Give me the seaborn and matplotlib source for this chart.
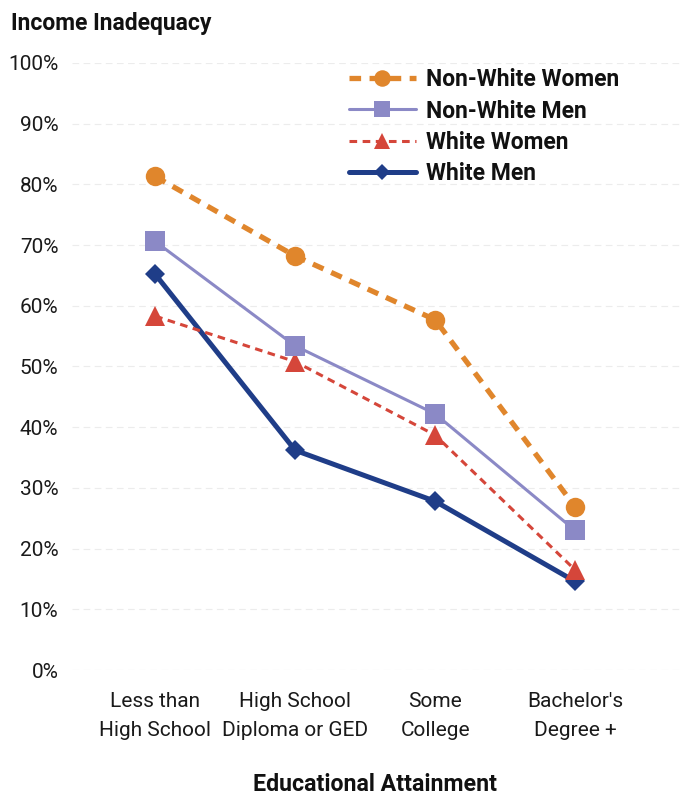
import matplotlib
matplotlib.use("Agg")
import matplotlib.pyplot as plt
import seaborn as sns
import pandas as pd
from matplotlib.lines import Line2D

categories = ["Less than\nHigh School", "High School\nDiploma or GED", "Some\nCollege", "Bachelor's\nDegree +"]
non_white_women = [81.3, 68.2, 57.7, 26.9]
non_white_men = [70.6, 53.4, 42.2, 23.0]
white_women = [58.3, 50.8, 38.7, 16.5]
white_men = [65.2, 36.2, 27.8, 14.6]
y_ticks = [0, 10, 20, 30, 40, 50, 60, 70, 80, 90, 100]

sns.set_theme(style="white")
plt.rcParams["font.family"] = ["Roboto", "DejaVu Sans"]

fig = plt.figure(figsize=(6.81, 7.95), dpi=100)
ax = fig.add_axes([0.106, 0.1572, 0.894, 0.7636])

series = [
    ("Non-White Women", non_white_women, dict(color="#E0862C", marker="o", linestyle=(0, (2.2, 1.6)), lw=3.8, ms=14)),
    ("Non-White Men", non_white_men, dict(color="#8B89C6", marker="s", linestyle="-", lw=2.2, ms=14)),
    ("White Women", white_women, dict(color="#D5463A", marker="^", linestyle=(0, (2.5, 1.8)), lw=2.2, ms=14)),
    ("White Men", white_men, dict(color="#1F3D88", marker="D", linestyle="-", lw=3.6, ms=10)),
]

x_idx = list(range(len(categories)))
handles = []
for name, vals, st in reversed(series):
    df = pd.DataFrame({"x": x_idx, "y": vals})
    sns.lineplot(data=df, x="x", y="y", ax=ax, color=st["color"], marker=st["marker"],
                 linestyle=st["linestyle"], lw=st["lw"], markersize=st["ms"],
                 markeredgewidth=0, legend=False)
for name, vals, st in series:
    handles.append(Line2D([], [], color=st["color"], marker=st["marker"], linestyle=st["linestyle"],
                          lw=st["lw"], markersize=st["ms"] * 0.85, markeredgewidth=0, label=name))

ax.set_xlim(-0.593, 3.757)
ax.set_ylim(0, 100)
ax.set_xticks(x_idx)
ax.set_xticklabels(categories, fontsize=15, color="#1a1a1a", linespacing=1.65)
ax.set_yticks(y_ticks)
ax.set_yticklabels([f"{v}%" for v in y_ticks], fontsize=15, color="#1a1a1a")
ax.tick_params(axis="x", length=0, pad=16)
ax.tick_params(axis="y", length=0, pad=10)
for v in y_ticks:
    ax.axhline(v, color="#ececec", lw=0.8, ls=(0, (6, 4)), zorder=0)
for s in ax.spines.values():
    s.set_visible(False)
ax.set_xlabel("")
ax.set_ylabel("")

fig.text(0.016, 0.971, "Income Inadequacy", fontsize=16.5, fontweight="bold", color="#111111",
         ha="left", va="center")
fig.text(0.551, 0.013, "Educational Attainment", fontsize=16.7, fontweight="bold", color="#111111",
         ha="center", va="center")

leg = ax.legend(handles=handles, loc="upper left", bbox_to_anchor=(0.44, 1.006), frameon=False,
                prop={"weight": "bold", "size": 16.5}, handlelength=2.9, handletextpad=0.45,
                labelspacing=0.35, borderaxespad=0)
for t in leg.get_texts():
    t.set_color("#111111")

fig.savefig("out.png", dpi=100)
